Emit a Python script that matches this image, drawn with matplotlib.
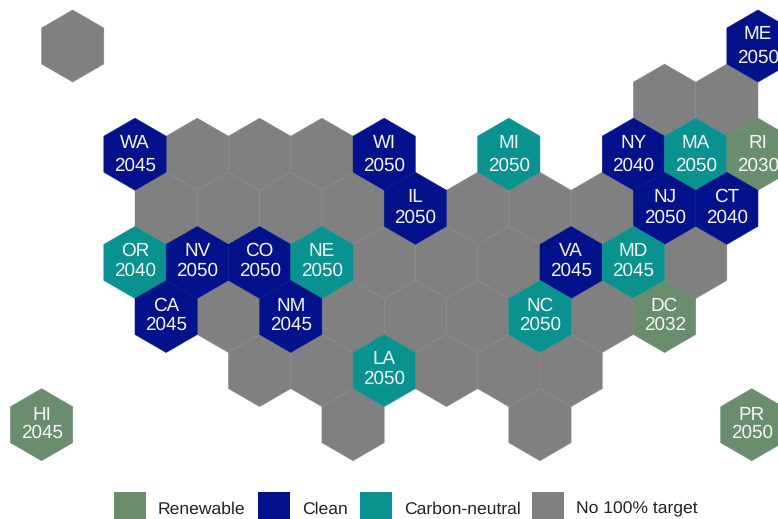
import matplotlib
matplotlib.use('Agg')
import matplotlib.pyplot as plt
from matplotlib.patches import Polygon, Rectangle

plt.rcParams['font.family'] = ['Liberation Sans', 'DejaVu Sans']
plt.rcParams['text.hinting'] = 'no_hinting'

# states with a target
states = ['ME', 'WA', 'WI', 'MI', 'NY', 'MA', 'RI', 'IL', 'NJ', 'CT', 'OR', 'NV', 'CO', 'NE',
          'VA', 'MD', 'CA', 'NM', 'NC', 'DC', 'LA', 'HI', 'PR']
years = [2050, 2045, 2050, 2050, 2040, 2050, 2030, 2050, 2050, 2040, 2040, 2050, 2050, 2050,
         2045, 2045, 2045, 2045, 2050, 2032, 2050, 2045, 2050]
targets = ['Clean', 'Clean', 'Clean', 'Carbon-neutral', 'Clean', 'Carbon-neutral', 'Renewable',
           'Clean', 'Clean', 'Clean', 'Carbon-neutral', 'Clean', 'Clean', 'Carbon-neutral',
           'Clean', 'Carbon-neutral', 'Clean', 'Clean', 'Carbon-neutral', 'Renewable',
           'Carbon-neutral', 'Renewable', 'Renewable']
# tile grid position (column in hex widths, row from the top)
state_cols = [10, 0, 4, 6, 8, 9, 10, 4.5, 8.5, 9.5, 0, 1, 2, 3,
              7, 8, 0.5, 2.5, 6.5, 8.5, 4, -1.5, 9.9]
state_rows = [0, 2, 2, 2, 2, 2, 2, 3, 3, 3, 4, 4, 4, 4,
              4, 4, 5, 5, 5, 5, 6, 7, 7]

# grey tiles, no 100% target
no_target_cols = [-1, 8.5, 9.5, 1, 2, 3, 0.5, 1.5, 2.5, 3.5, 5.5, 6.5, 7.5,
                  4, 5, 6, 9, 1.5, 3.5, 4.5, 5.5, 7.5, 2, 3, 5, 6, 7, 3.5, 6.5]
no_target_rows = [0, 1, 1, 2, 2, 2, 3, 3, 3, 3, 3, 3, 3,
                  4, 4, 4, 4, 5, 5, 5, 5, 5, 6, 6, 6, 6, 6, 7, 7]

legend_names = ['Renewable', 'Clean', 'Carbon-neutral', 'No 100% target']

colors = {'Renewable': '#6a8d6e', 'Clean': '#03128a', 'Carbon-neutral': '#0a9290',
          'No 100% target': '#808080'}

W, H = 778, 519
HEX_W = 62.3
ROW_H = 54.1
X0, Y0 = 135, 46

fig = plt.figure(figsize=(W / 100, H / 100), dpi=100)
ax = fig.add_axes([0, 0, 1, 1])
ax.set_xlim(-X0 / HEX_W, (W - X0) / HEX_W)
ax.set_ylim((H - Y0) / ROW_H, -Y0 / ROW_H)
ax.axis('off')


def add_hex(col, row, color, edge):
    pts = [(col, row - 2 / 3), (col + 0.5, row - 1 / 3), (col + 0.5, row + 1 / 3),
           (col, row + 2 / 3), (col - 0.5, row + 1 / 3), (col - 0.5, row - 1 / 3)]
    ax.add_patch(Polygon(pts, closed=True, facecolor=color, edgecolor=edge, linewidth=0.35))


for c, r in zip(no_target_cols, no_target_rows):
    add_hex(c, r, colors['No 100% target'], '#8a8a8a')

for c, r, t in zip(state_cols, state_rows, targets):
    add_hex(c, r, colors[t], colors[t])

# the two text lines sit closer together further down the map (px)
line_gap = {0: 24, 2: 22, 3: 21, 4: 20, 5: 19, 6: 19, 7: 17}
# and a bit higher in the tile (px)
text_lift = {0: 1, 2: 1, 3: 1.8, 4: 2.4, 5: 2, 6: 3, 7: 2}

for s, y, c, r in zip(states, years, state_cols, state_rows):
    gap = line_gap[r] / ROW_H / 2
    mid = r + (6.3 - text_lift[r]) / ROW_H
    ax.text(c, mid - gap, s, color='#f4f4f4', fontsize=13.6, ha='center', va='baseline')
    ax.text(c, mid + gap, str(y), color='#f4f4f4', fontsize=13.6, ha='center', va='baseline')

# legend, squares run off the bottom of the picture
box_x = [114, 258, 360, 532]
text_x = [158, 302, 404, 576]
for name, bx, tx in zip(legend_names, box_x, text_x):
    fig.patches.append(Rectangle((bx / W, 0), 32 / W, 27 / H, transform=fig.transFigure,
                                 facecolor=colors[name], edgecolor='none'))
    fig.text(tx / W, 1 - 513.5 / H, name, color='#222222', fontsize=12.6, ha='left', va='baseline')

fig.savefig('out.png', dpi=100)
